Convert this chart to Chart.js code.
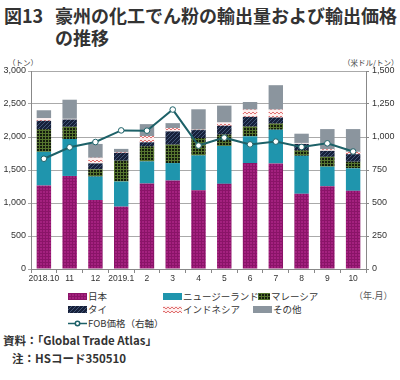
<!DOCTYPE html>
<html>
<head>
<meta charset="utf-8">
<script src="https://cdn.jsdelivr.net/npm/chart.js@4.4.1/dist/chart.umd.min.js"></script>
<style>
  body { margin: 0; background: #fff; font-family: "Noto Sans CJK JP", "Liberation Sans", sans-serif; }
  #wrap { position: relative; width: 400px; height: 380px; overflow: hidden; }
  .abs { position: absolute; white-space: nowrap; color: #222; }
  .title { font-weight: bold; font-size: 18px; line-height: 20px; color: #333; }
  .unit { font-size: 7.5px; color: #444; }
  .leg { font-size: 9.5px; line-height: 12px; color: #333; }
  .leg canvas { vertical-align: middle; margin-right: 1px; position: relative; top: -1px; }
  .note { font-weight: bold; font-size: 11.5px; color: #333; }
  #chartBox { position: absolute; left: 0; top: 55px; width: 400px; height: 232px; }
</style>
</head>
<body>
<div id="wrap">
  <div class="abs title" style="left:4px; top:5px;">図13</div>
  <div class="abs title" style="left:55px; top:5px;">豪州の化工でん粉の輸出量および輸出価格</div>
  <div class="abs title" style="left:55px; top:27px;">の推移</div>
  <div class="abs unit" style="left:8px; top:57px;">（トン）</div>
  <div class="abs unit" style="left:343px; top:57px;">（米ドル/トン）</div>
  <div id="chartBox"><canvas id="c" width="400" height="232"></canvas></div>
  <div id="legend"></div>
  <div class="abs leg" style="left:354px; top:290px; font-size:9px; color:#555;">（年.月）</div>
  <div class="abs note" style="left:3px; top:332px;">資料：「Global Trade Atlas」</div>
  <div class="abs note" style="left:12px; top:350px;">注：HSコード350510</div>
</div>
<script>
var months = ['2018.10', '11', '12', '2019.1', '2', '3', '4', '5', '6', '7', '8', '9', '10'];

var japan     = [1265, 1410, 1045, 945, 1295, 1340, 1195, 1290, 1605, 1600, 1140, 1255, 1185];
var newZealand= [510, 560, 355, 380, 335, 265, 525, 575, 405, 510, 575, 295, 340];
var malaysia  = [345, 185, 110, 315, 230, 280, 265, 175, 150, 95, 85, 150, 100];
var thailand  = [125, 110, 90, 120, 60, 200, 120, 130, 145, 90, 95, 90, 115];
var indonesia = [40, 10, 85, 10, 95, 50, 5, 50, 110, 120, 15, 25, 35];
var others    = [120, 290, 210, 50, 180, 75, 310, 255, 115, 370, 140, 305, 345];
var fobPrice  = [835, 922, 962, 1050, 1048, 1208, 935, 995, 944, 965, 924, 952, 890];

var leftTicks = [0, 500, 1000, 1500, 2000, 2500, 3000];
var rightTicks = [0, 250, 500, 750, 1000, 1250, 1500];

function makePattern(size, bg, draw){
    var cv = document.createElement('canvas');
    cv.width = size; cv.height = size;
    var ctx = cv.getContext('2d');
    ctx.fillStyle = bg;
    ctx.fillRect(0, 0, size, size);
    if( draw ){ draw(ctx, size); }
    return ctx.createPattern(cv, 'repeat');
}

var fills = {
    japan: makePattern(3, '#a4217f', function(ctx){
        ctx.fillStyle = '#8a1468';
        ctx.fillRect(0, 0, 3, 1);
        ctx.fillRect(0, 0, 1, 3);
    }),
    nz: makePattern(4, '#1f95ad', null),
    malaysia: makePattern(3, '#141c0e', function(ctx){
        ctx.fillStyle = '#56752f';
        ctx.fillRect(0, 0, 3, 1);
        ctx.fillRect(0, 0, 1, 3);
    }),
    thai: makePattern(4, '#16203a', function(ctx){
        ctx.strokeStyle = '#435677';
        ctx.lineWidth = 1;
        ctx.beginPath();
        ctx.moveTo(0, 4); ctx.lineTo(4, 0);
        ctx.stroke();
    }),
    indonesia: makePattern(4, '#fdeeee', function(ctx){
        ctx.fillStyle = '#e07070';
        ctx.fillRect(0, 1, 2, 1);
        ctx.fillRect(2, 2, 2, 1);
    }),
    others: makePattern(4, '#8b959e', null)
};

var lineColor = '#1d6168';

function barSet(label, data, fill){
    return {
        type: 'bar',
        label: label,
        data: data,
        backgroundColor: fill,
        borderWidth: 0,
        yAxisID: 'y',
        stack: 's',
        order: 1,
        barPercentage: 0.56,
        categoryPercentage: 1
    };
}

var chart = new Chart(document.getElementById('c'), {
    data: {
        labels: months,
        datasets: [
            barSet('日本', japan, fills.japan),
            barSet('ニュージーランド', newZealand, fills.nz),
            barSet('マレーシア', malaysia, fills.malaysia),
            barSet('タイ', thailand, fills.thai),
            barSet('インドネシア', indonesia, fills.indonesia),
            barSet('その他', others, fills.others),
            {
                type: 'line',
                label: 'FOB価格（右軸）',
                data: fobPrice,
                yAxisID: 'y1',
                borderColor: lineColor,
                borderWidth: 2,
                pointRadius: 2.8,
                pointBackgroundColor: '#fff',
                pointBorderColor: lineColor,
                pointBorderWidth: 1,
                tension: 0,
                order: 0
            }
        ]
    },
    options: {
        responsive: false,
        animation: false,
        layout: { padding: { top: 16, left: 0, right: 0, bottom: 0 } },
        plugins: { legend: { display: false }, tooltip: { enabled: false } },
        scales: {
            x: {
                stacked: true,
                offset: true,
                grid: { display: true, drawOnChartArea: false, tickLength: 4, color: '#888' },
                border: { color: '#888' },
                ticks: { color: '#333', font: { family: 'Liberation Sans', size: 8.5 }, padding: 1, maxRotation: 0, autoSkip: false },
                afterFit: function(s){ s.height = 18; }
            },
            y: {
                stacked: true,
                position: 'left',
                min: 0, max: 3000,
                afterBuildTicks: function(s){ s.ticks = leftTicks.map(function(v){ return { value: v }; }); },
                grid: { color: '#aaa', tickLength: 3 },
                border: { color: '#888' },
                ticks: {
                    color: '#333', padding: 2,
                    font: { family: 'Liberation Sans', size: 9 },
                    callback: function(v){ return v.toLocaleString('en-US'); }
                },
                afterFit: function(s){ s.width = 31; }
            },
            y1: {
                position: 'right',
                min: 0, max: 1500,
                afterBuildTicks: function(s){ s.ticks = rightTicks.map(function(v){ return { value: v }; }); },
                grid: { drawOnChartArea: false, tickLength: 3, color: '#888' },
                border: { color: '#888' },
                ticks: {
                    color: '#333', padding: 3,
                    font: { family: 'Liberation Sans', size: 9 },
                    callback: function(v){ return v.toLocaleString('en-US'); }
                },
                afterFit: function(s){ s.width = 34; }
            }
        }
    }
});

// html legend, three columns
var legendItems = [
    { text: '日本', fill: fills.japan, x: 68, y: 290, w: 19 },
    { text: 'ニュージーランド', fill: fills.nz, x: 163, y: 290, w: 19 },
    { text: 'マレーシア', fill: fills.malaysia, x: 258, y: 290, w: 12 },
    { text: 'タイ', fill: fills.thai, x: 68, y: 303, w: 19 },
    { text: 'インドネシア', fill: fills.indonesia, x: 163, y: 303, w: 19 },
    { text: 'その他', fill: fills.others, x: 253, y: 303, w: 19 },
    { text: 'FOB価格（右軸）', line: true, x: 68, y: 317, w: 19 }
];

var legendBox = document.getElementById('legend');
legendItems.forEach(function(item){
    var div = document.createElement('div');
    div.className = 'abs leg';
    div.style.left = item.x + 'px';
    div.style.top = item.y + 'px';
    var sw = document.createElement('canvas');
    var w = item.w;
    sw.width = w; sw.height = 7;
    var ctx = sw.getContext('2d');
    if( item.line ){
        ctx.strokeStyle = lineColor;
        ctx.lineWidth = 1.5;
        ctx.beginPath(); ctx.moveTo(0, 3.5); ctx.lineTo(w, 3.5); ctx.stroke();
        ctx.fillStyle = '#fff';
        ctx.beginPath(); ctx.arc(w / 2, 3.5, 2.2, 0, Math.PI * 2); ctx.fill(); ctx.stroke();
    } else {
        ctx.fillStyle = item.fill;
        ctx.fillRect(0, 0, w, 7);
    }
    div.appendChild(sw);
    div.appendChild(document.createTextNode(item.text));
    legendBox.appendChild(div);
});
</script>
</body>
</html>
